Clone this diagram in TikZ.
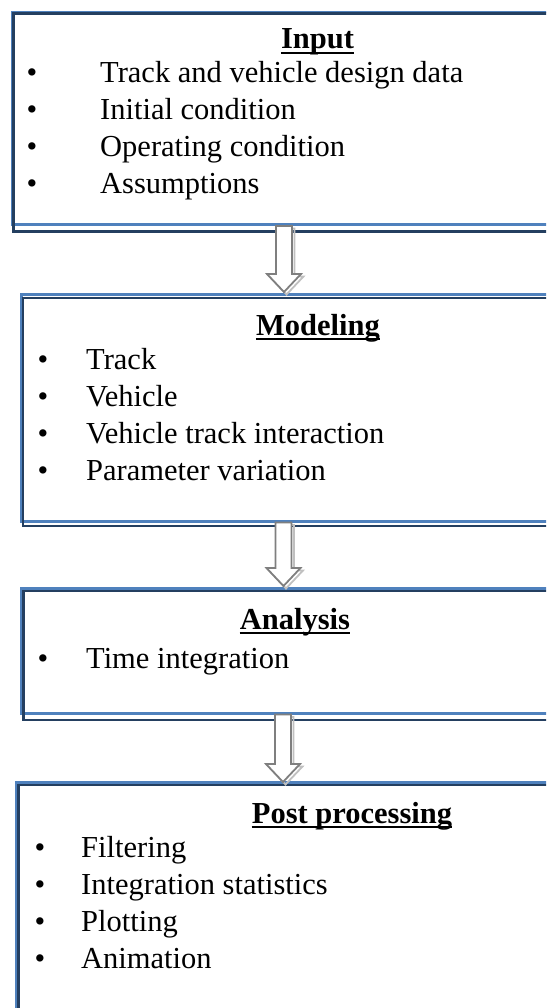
\documentclass[tikz,border=0pt]{standalone}
\usepackage{fontspec}
\setmainfont{Liberation Serif}
\usetikzlibrary{calc}
\definecolor{frameblue}{HTML}{4F81BD}
\definecolor{framedark}{HTML}{243F60}
\definecolor{arrowgray}{HTML}{7F7F7F}
\definecolor{shadowgray}{HTML}{C0C0C0}
\tikzset{
  bluebox/.style={draw=frameblue, line width=2.5pt, anchor=north west, inner sep=0pt},
  darkframe/.style={draw=framedark, line width=2.2pt},
  txt/.style={inner sep=0pt, anchor=base west, font=\fontsize{30.5}{36}\selectfont},
  ttl/.style={inner sep=0pt, anchor=base, font=\fontsize{30.5}{36}\selectfont\bfseries},
  bul/.style={inner sep=0pt, anchor=base, font=\fontsize{30.5}{36}\selectfont},
  uline/.style={line width=2.5pt},
  blockarrow/.style={draw=arrowgray, line width=1.8pt, fill=white, line join=miter},
  blockshadow/.style={draw=shadowgray, line width=1.8pt, transform canvas={shift={(2.5,2.5)}}},
}
\newcommand\blockarr[3]{%
  \draw[#3] ($(#1)+(-8,0)$) -- ($(#2)+(-8,-18)$) -- ($(#2)+(-17,-18)$) -- (#2)
    -- ($(#2)+(17,-18)$) -- ($(#2)+(8,-18)$) -- ($(#1)+(8,0)$) -- cycle;}
\begin{document}
\begin{tikzpicture}[x=1pt,y=-1pt]
\useasboundingbox (0,0) rectangle (546,1008);
\clip (0,0) rectangle (546,1008);

% ---- boxes ----
\node[bluebox, minimum width=589pt, minimum height=212.5pt] (b1) at (11,11) {};
\draw[darkframe] ($(b1.north west)+(2.5,2.5)$) rectangle ($(b1.south east)+(2.5,5.5)$);

\node[bluebox, minimum width=580pt, minimum height=227pt] (b2) at (20,293) {};
\draw[darkframe] ($(b2.north west)+(3,5)$) rectangle ($(b2.south east)+(3,3.5)$);

\node[bluebox, minimum width=580pt, minimum height=125pt] (b3) at (20,587) {};
\draw[darkframe] ($(b3.north west)+(3.5,4)$) rectangle ($(b3.south east)+(3.5,5.5)$);

\node[bluebox, minimum width=585pt, minimum height=260pt] (b4) at (15,781) {};
\draw[darkframe] ($(b4.north west)+(3.5,4)$) rectangle ($(b4.south east)+(3.5,5)$);

% ---- arrows ----
\path (284,0) coordinate (x1) (283.5,0) coordinate (x2) (283,0) coordinate (x3);
\coordinate (a1s) at (b1.south -| x1);
\coordinate (a1e) at ($(b2.north -| x1)+(0,-1)$);
\coordinate (a2s) at (b2.south -| x2);
\coordinate (a2e) at ($(b3.north -| x2)+(0,-1)$);
\coordinate (a3s) at (b3.south -| x3);
\coordinate (a3e) at ($(b4.north -| x3)+(0,1)$);
\blockarr{a1s}{a1e}{blockshadow}
\blockarr{a1s}{a1e}{blockarrow}
\blockarr{a2s}{a2e}{blockshadow}
\blockarr{a2s}{a2e}{blockarrow}
\blockarr{a3s}{a3e}{blockshadow}
\blockarr{a3s}{a3e}{blockarrow}

% ---- box 1 text ----
\node[ttl] (t1) at (317.5,49) {Input};
\draw[uline] ($(t1.base west)+(0,4)$) -- ($(t1.base east)+(0,4)$);
\node[bul] (p11) at (32,83) {•};
\node[txt] (i11) at (100,83) {Track and vehicle design data};
\node[bul] (p12) at (32,120) {•};
\node[txt] (i12) at (100,120) {Initial condition};
\node[bul] (p13) at (32,157) {•};
\node[txt] (i13) at (100,157) {Operating condition};
\node[bul] (p14) at (32,194) {•};
\node[txt] (i14) at (100,194) {Assumptions};

% ---- box 2 text ----
\node[ttl] (t2) at (318,335) {Modeling};
\draw[uline] ($(t2.base west)+(0,4)$) -- ($(t2.base east)+(0,4)$);
\node[bul] (p21) at (43,369) {•};
\node[txt] (i21) at (86,369) {Track};
\node[bul] (p22) at (43,406) {•};
\node[txt] (i22) at (86,406) {Vehicle};
\node[bul] (p23) at (43,443) {•};
\node[txt] (i23) at (86,443) {Vehicle track interaction};
\node[bul] (p24) at (43,480) {•};
\node[txt] (i24) at (86,480) {Parameter variation};

% ---- box 3 text ----
\node[ttl] (t3) at (295,629) {Analysis};
\draw[uline] ($(t3.base west)+(0,4)$) -- ($(t3.base east)+(0,4)$);
\node[bul] (p31) at (43,668) {•};
\node[txt] (i31) at (86,668) {Time integration};

% ---- box 4 text ----
\node[ttl] (t4) at (352,823) {Post processing};
\draw[uline] ($(t4.base west)+(0,4)$) -- ($(t4.base east)+(0,4)$);
\node[bul] (p41) at (40,857) {•};
\node[txt] (i41) at (81,857) {Filtering};
\node[bul] (p42) at (40,894) {•};
\node[txt] (i42) at (81,894) {Integration statistics};
\node[bul] (p43) at (40,931) {•};
\node[txt] (i43) at (81,931) {Plotting};
\node[bul] (p44) at (40,968) {•};
\node[txt] (i44) at (81,968) {Animation};
\end{tikzpicture}
\end{document}
